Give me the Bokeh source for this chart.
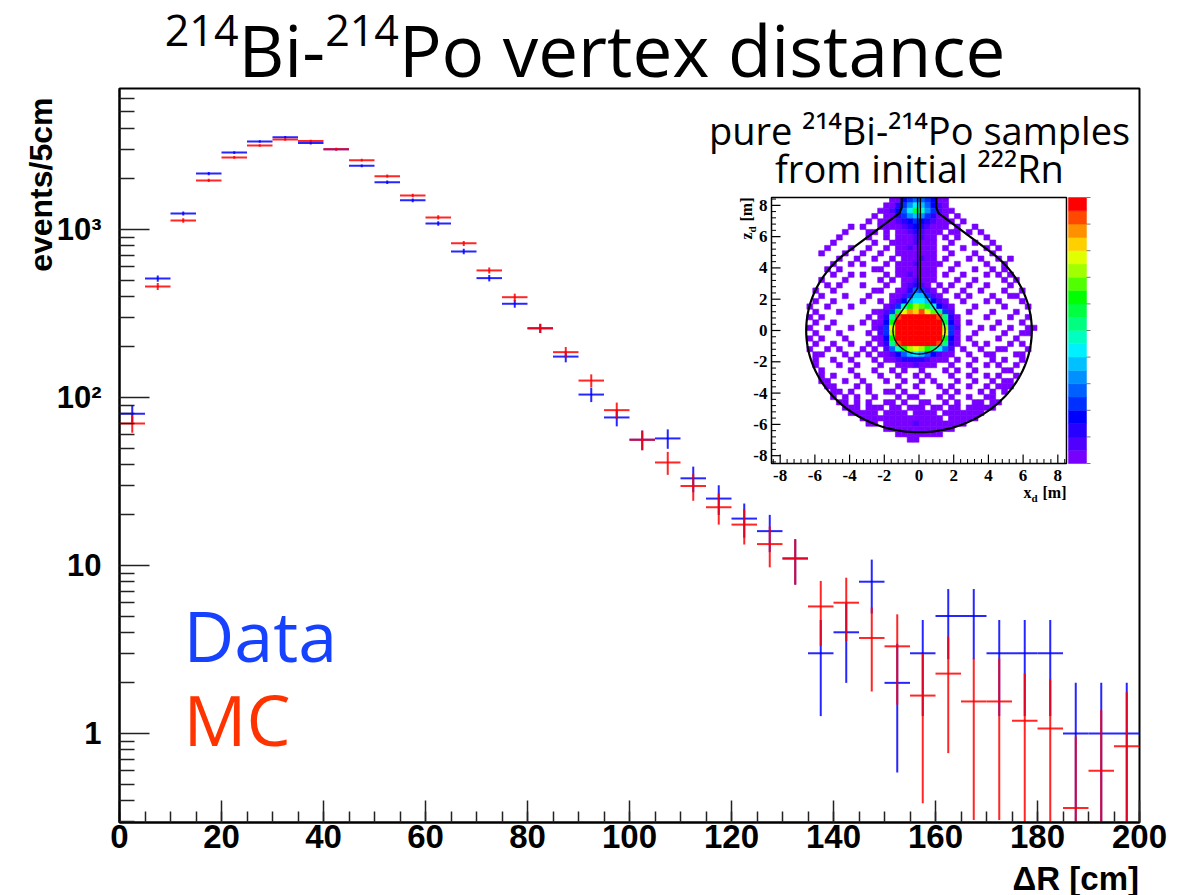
import math
import numpy as np
from bokeh.plotting import figure
from bokeh.layouts import column
from bokeh.models import Range1d, LinearScale, FixedTicker, Label, ColumnDataSource, Title, Div
from bokeh.core.properties import value
from bokeh.embed import file_html
from bokeh.resources import INLINE

# ---------------- data ----------------
bin_centers = [2.5, 7.5, 12.5, 17.5, 22.5, 27.5, 32.5, 37.5, 42.5, 47.5,
               52.5, 57.5, 62.5, 67.5, 72.5, 77.5, 82.5, 87.5, 92.5, 97.5,
               102.5, 107.5, 112.5, 117.5, 122.5, 127.5, 132.5, 137.5, 142.5, 147.5,
               152.5, 157.5, 162.5, 167.5, 172.5, 177.5, 182.5, 187.5, 192.5, 197.5]
bin_half_width = 2.5

data_counts = [80, 510, 1245, 2150, 2870, 3340, 3540, 3265, 3000, 2390,
               1910, 1490, 1086, 740, 513, 361, 258, 175, 104, 76,
               56, 57, 33, 25, 19, 16, 11, 3, 4, 8,
               2, 3, 5, 5, 3, 3, 3, 1, 1, 1]

mc_counts = [70, 458, 1131, 1958, 2683, 3162, 3433, 3356, 3005, 2585,
             2075, 1593, 1179, 826, 570, 395, 258, 186, 126, 84,
             56, 41, 29.7, 22.2, 17.5, 13.4, 11.0, 5.7, 6.0, 3.7,
             3.3, 1.68, 2.27, 1.55, 1.55, 1.19, 1.07, 0.36, 0.60, 0.84]

x_major_ticks = [0, 20, 40, 60, 80, 100, 120, 140, 160, 180, 200]
x_minor_ticks = list(range(0, 205, 5))
y_major_ticks = [1, 10, 100, 1000]
y_minor_ticks = [0.3, 0.4, 0.5, 0.6, 0.7, 0.8, 0.9,
                 2, 3, 4, 5, 6, 7, 8, 9,
                 20, 30, 40, 50, 60, 70, 80, 90,
                 200, 300, 400, 500, 600, 700, 800, 900,
                 2000, 3000, 4000, 5000, 6000]
y_tick_labels = {1: "1", 10: "10", 100: "10²", 1000: "10³"}

inset_ticks = [-8, -6, -4, -2, 0, 2, 4, 6, 8]
inset_tick_labels = ["-8", "-6", "-4", "-2", "0", "2", "4", "6", "8"]
inset_minor_ticks = [round(-8.4 + 0.4 * k, 2) for k in range(43)]

# inset 2D histogram: 50 x 50 cells over [-8.5, 8.5]^2, rows from top (z=+8.5) down
# '.' empty, '1'..'9','A'..'K' = colour level 1..20
INSET_ROWS = [
    ".......... .......... 1145665411 .......... ..........",
    ".......... .........1 1357986421 .......... ..........",
    ".......... ........11 2469CA7521 1......... ..........",
    ".......... .......1.1 1357875311 .1........ ..........",
    ".......... ......1.11 1234543211 1.1....... ..........",
    ".......... ...1.1..11 1123432111 .1..1..... ..........",
    ".......... ..1...11.1 .11232111. 11.1.1.... ..........",
    ".......... .1....1..1 .1112211.1 .1....1... ..........",
    ".......... 1......1.. 11112111.. 1...1..1.. ..........",
    ".........1 ...1..1..1 .1121111.1 ..1...1.1. ..........",
    "........1. ..1..1..1. .1111111.. 1...1..1.. ..........",
    ".......... .1..1..1.. 1.111211.1 ...1.1..1. 1.........",
    ".......... 1..1.1...1 .11121111. .1....1..1 ..........",
    ".........1 .1.....11. .1111111.. 1...1..1.1 ..........",
    ".......... 1..1.1...1 .1121111.1 ..1...1.1. 1.........",
    "........1. ..1.....1. 1.112111.. .1..1....1 .1........",
    ".........1 .1...1...1 ..12321.1. 1..1..1... 1.........",
    ".......1.. 1......11. .1136521.1 ..1..1...1 ..1.......",
    "........1. ..1...1... 112588521. .1.1...1.. 11........",
    ".......1.. 1....1..1. 1248998421 ..1...1.1. ..1.......",
    "......1..1 ...1.....1 25ADFEC942 1...1....1 ...1......",
    ".......1.. .1.....112 5CGIHJGEB5 2..1...1.. .1........",
    "......1.1. ......1.13 BJKKKKKKJB 31....1... 1..1......",
    ".......1.. 1....1.114 DKKKKKKKKC 41.1....1. ..1.......",
    "......1..1 ...1...125 GKKKKKKKKF 52...1.1.. 1..11.....",
    ".......1.. .1....1.25 FKKKKKKKKG 51..1....1 ..11......",
    "......1.1. ..1....114 DKKKKKKKKD 41.1....1. .1........",
    ".......1.. 1..1..1.13 BJKKKKKKJB 31..1.1... 1.1.......",
    "......1..1 .1...1.1.2 6ADFGFDB96 2.1..1..11 ...1......",
    ".......11. ..1.1.1.11 2468986421 1..1..11.. .11.......",
    ".......1.. 1..1...1.1 1233332111 .1..1..1.1 ..1.......",
    ".......1.. .1..1...1. .1112111.. 1..1..1.1. .1........",
    "........1. ...1...1.. 1.1..1...1 .1..1....1 1.........",
    "........1. 1...1...1. .1..1.1... 1..1..1.1. .1........",
    "........11 ..1..1...1 ..1..1.1.. .1..1..1.1 1.........",
    ".........1 1...1.1... .1..1...1. 1..1..1.11 1.........",
    ".......... 11.1..1..1 1.1..1...1 .1...1.1.1 ..........",
    ".......... 1.1.1..1.. .1.11...1. 1..1..11.. ..........",
    ".......... .11.1.1..1 1.1..11..1 .1..11.11. ..........",
    ".......... ..111.111. 11.111.11. 11.11111.. ..........",
    ".......... ...11111.1 111.1111.1 111111.... ..........",
    ".......... .....11111 111111111. 11111..... ..........",
    ".......... ......11.1 1111211111 111....... ..........",
    ".......... .........1 1111111111 1......... ..........",
    ".......... .......... .11111111. .......... ..........",
    ".......... .......... ...11..... .......... ..........",
    ".......... .......... .......... .......... ..........",
    ".......... .......... .......... .......... ..........",
    ".......... .......... .......... .......... ..........",
    ".......... .......... .......... .......... ..........",
]
LEVEL_CHARS = "123456789ABCDEFGHIJK"
PALETTE = ["#7800ff", "#5000ff", "#2800ff", "#0000ff", "#0030ff",
           "#0060ff", "#0090ff", "#00c0ff", "#00f0ff", "#00ffc0",
           "#00ff80", "#00ff40", "#00ff00", "#50ff00", "#a0ff00",
           "#e0ff00", "#ffd000", "#ff9000", "#ff4800", "#ff0000"]

# ---------------- page geometry ----------------
W, H = 1195, 895
TITLE_H = 86                                  # title block height (px)
FL, FR, FT, FB = 119, 1139, 88, 822          # main frame on the page (px)
BOTTOM_BORDER = 40
IL, IR, IT, IB = 771, 1066, 197, 463          # inset frame on the page (px)
CBL, CBR = 1068, 1086                         # inset colour bar (px)
Y0, Y1 = 0.295, 6900
IX0, IX1 = -8.5, 8.5
ux = (IX1 - IX0) / (IR - IL)
uy = (IX1 - IX0) / (IB - IT)


def ix_of(px):
    return IX0 + (px - IL) * ux


def iy_of(py):
    return IX1 - (py - IT) * uy


fig_h = (FT - TITLE_H) + (FB - FT) + BOTTOM_BORDER
p = figure(width=W, height=fig_h, x_range=Range1d(0, 200), y_range=Range1d(Y0, Y1),
           y_axis_type="log", output_backend="svg", toolbar_location=None,
           min_border_left=FL, min_border_right=W - FR,
           min_border_top=FT - TITLE_H, min_border_bottom=BOTTOM_BORDER)
p.title.text = ""
p.title.visible = False
p.extra_x_ranges = {"ix": Range1d(ix_of(FL), ix_of(FR)), "px": Range1d(FL, FR)}
p.extra_y_ranges = {"iy": Range1d(iy_of(FB), iy_of(FT)), "py": Range1d(FB, FT)}
p.extra_x_scales = {"ix": LinearScale(), "px": LinearScale()}
p.extra_y_scales = {"iy": LinearScale(), "py": LinearScale()}

p.background_fill_color = "white"
p.border_fill_color = "white"
p.outline_line_color = "black"
p.outline_line_width = 2
p.xgrid.visible = False
p.ygrid.visible = False

AX_FONT = "Liberation Sans"
xa = p.xaxis[0]
xa.ticker = FixedTicker(ticks=x_major_ticks, minor_ticks=x_minor_ticks)
ya = p.yaxis[0]
ya.ticker = FixedTicker(ticks=y_major_ticks, minor_ticks=y_minor_ticks)
ya.major_label_overrides = y_tick_labels
for ax in (xa, ya):
    ax.major_label_text_font = AX_FONT
    ax.major_label_text_font_style = "bold"
    ax.major_label_text_color = "black"
    ax.axis_line_width = 2
    ax.axis_line_color = "black"
    ax.major_tick_out = 0
    ax.minor_tick_out = 0
    ax.major_tick_line_width = 1.5
    ax.minor_tick_line_width = 1.5
    ax.major_tick_line_color = "#222222"
    ax.minor_tick_line_color = "#222222"
xa.major_label_text_font_size = "33px"
ya.major_label_text_font_size = "31px"
xa.major_tick_in = 22
xa.minor_tick_in = 11
xa.major_label_standoff = 2
ya.major_tick_in = 30
ya.minor_tick_in = 15
ya.major_label_standoff = 18

ytitle = Title(text="events/5cm", align="right", vertical_align="bottom", text_font=AX_FONT,
               text_font_style="bold", text_font_size="32px", text_color="black",
               standoff=0, offset=9)
try:
    ytitle.standoff = -11
except Exception:
    ytitle.standoff = 0
p.add_layout(ytitle, "left")

# ---------------- main histograms ----------------
def hist_source(vals):
    v = np.array(vals, dtype=float)
    err = np.sqrt(v)
    c = np.array(bin_centers)
    return ColumnDataSource(dict(x=c, x0=c - bin_half_width, x1=c + bin_half_width, y=v,
                                 lo=np.maximum(v - err, 0.2), hi=v + err))


for vals, col in ((data_counts, "#0000ff"), (mc_counts, "#ff0000")):
    src = hist_source(vals)
    p.segment(x0="x0", y0="y", x1="x1", y1="y", source=src, line_color=col,
              line_width=2, line_alpha=0.85)
    p.segment(x0="x", y0="lo", x1="x", y1="hi", source=src, line_color=col,
              line_width=2, line_alpha=0.85)

# ---------------- inset ----------------
ncell = 50
cw = (IX1 - IX0) / ncell
cl, cr, cb, ct, cc = [], [], [], [], []
for r, row in enumerate(INSET_ROWS):
    row = row.replace(" ", "").ljust(ncell, ".")[:ncell]
    for c, ch in enumerate(row):
        if ch in LEVEL_CHARS:
            cl.append(IX0 + c * cw)
            cr.append(IX0 + (c + 1) * cw)
            ct.append(IX1 - r * cw)
            cb.append(IX1 - (r + 1) * cw)
            cc.append(PALETTE[LEVEL_CHARS.index(ch)])
p.quad(left=cl, right=cr, bottom=cb, top=ct, fill_color=cc, line_color=cc,
       line_width=0.6, x_range_name="ix", y_range_name="iy")


def drop_outline(R, neck_hw, neck_bottom, tang_x, tang_z, top=8.5):
    d = math.hypot(tang_x, tang_z)
    a = math.acos(R / d)
    t = math.atan2(tang_z, tang_x) + a
    ang = np.linspace(t, 3 * math.pi - t, 240)
    xs = [-neck_hw, -neck_hw, tang_x] + list(R * np.cos(ang)) + [-tang_x, neck_hw, neck_hw]
    zs = [top, neck_bottom, tang_z] + list(R * np.sin(ang)) + [tang_z, neck_bottom, top]
    return xs, zs


bx, bz = drop_outline(6.5, 1.0, 7.85, -1.12, 7.5)
p.line(bx, bz, line_color="black", line_width=2.2, x_range_name="ix", y_range_name="iy")
dx, dz = drop_outline(1.5, 0.08, 2.75, -0.08, 2.7)
p.line(dx, dz, line_color="black", line_width=1.4, x_range_name="ix", y_range_name="iy")

p.quad(left=[IX0], right=[IX1], bottom=[IX0], top=[IX1], fill_color=None,
       line_color="black", line_width=1.5, x_range_name="ix", y_range_name="iy")

maj_len_x, min_len_x = 9 * uy, 4.5 * uy
maj_len_y, min_len_y = 9 * ux, 4.5 * ux
minor_only = [m for m in inset_minor_ticks if all(abs(m - t) > 1e-6 for t in inset_ticks)]
p.segment(x0=inset_ticks, y0=[IX0] * 9, x1=inset_ticks, y1=[IX0 + maj_len_x] * 9,
          line_color="black", line_width=1.2, x_range_name="ix", y_range_name="iy")
p.segment(x0=minor_only, y0=[IX0] * len(minor_only), x1=minor_only,
          y1=[IX0 + min_len_x] * len(minor_only),
          line_color="black", line_width=1.0, x_range_name="ix", y_range_name="iy")
p.segment(x0=[IX0] * 9, y0=inset_ticks, x1=[IX0 + maj_len_y] * 9, y1=inset_ticks,
          line_color="black", line_width=1.2, x_range_name="ix", y_range_name="iy")
p.segment(x0=[IX0] * len(minor_only), y0=minor_only, x1=[IX0 + min_len_y] * len(minor_only),
          y1=minor_only, line_color="black", line_width=1.0, x_range_name="ix", y_range_name="iy")

p.text(x=inset_ticks, y=[iy_of(469)] * 9, text=inset_tick_labels,
       text_font=value("Liberation Serif"), text_font_style="bold", text_font_size="17px",
       text_align="center", text_baseline="top", text_color="black",
       x_range_name="ix", y_range_name="iy")
p.text(x=[ix_of(767)] * 9, y=inset_ticks, text=inset_tick_labels,
       text_font=value("Liberation Serif"), text_font_style="bold", text_font_size="17px",
       text_align="right", text_baseline="middle", text_color="black",
       x_range_name="ix", y_range_name="iy")

nlev = len(PALETTE)
band = (IX1 - IX0) / nlev
p.quad(left=[ix_of(CBL)] * nlev, right=[ix_of(CBR)] * nlev,
       bottom=[IX0 + k * band for k in range(nlev)],
       top=[IX0 + (k + 1) * band for k in range(nlev)],
       fill_color=PALETTE, line_color=PALETTE, line_width=0.5,
       x_range_name="ix", y_range_name="iy")
cb_ticks = [IX0 + k * 2 * band for k in range(nlev // 2 + 1)]
p.segment(x0=[ix_of(CBR)] * len(cb_ticks), y0=cb_ticks, x1=[ix_of(CBR + 4)] * len(cb_ticks),
          y1=cb_ticks, line_color="#777777", line_width=1,
          x_range_name="ix", y_range_name="iy")


# ---------------- texts inside the frame ----------------
def add_label(text, x, y, size, font="Open Sans", style="normal", color="black",
              align="left", angle=0.0, shift=0.41):
    # shift: empirical correction so that y is the alphabetic baseline on the page
    if angle == 0.0:
        y = y - shift * size
    else:
        x = x - shift * size
    p.add_layout(Label(x=x, y=y, x_range_name="px", y_range_name="py", text=text,
                       text_font=font, text_font_size=f"{size}px", text_font_style=style,
                       text_color=color, text_align=align, text_baseline="alphabetic",
                       angle=angle))


add_label("pure ²¹⁴Bi-²¹⁴Po samples", 919, 145, 38, align="center")
add_label("from initial ²²²Rn", 919, 183, 38, align="center")
add_label("Data", 183, 663, 70, color="#1541ff")
add_label("MC", 183, 747, 70, color="#ff3300")

add_label("[m]", 1066, 497, 16, font="Liberation Serif", style="bold", align="right", shift=0.3)
add_label("d", 1037, 501, 11, font="Liberation Serif", style="bold", align="right", shift=0.3)
add_label("x", 1031, 497, 16, font="Liberation Serif", style="bold", align="right", shift=0.3)
add_label("[m]", 751, 197, 16, font="Liberation Serif", style="bold", align="right",
          angle=math.pi / 2, shift=0.3)
add_label("d", 755, 226, 11, font="Liberation Serif", style="bold", align="right",
          angle=math.pi / 2, shift=0.3)
add_label("z", 751, 232, 16, font="Liberation Serif", style="bold", align="right",
          angle=math.pi / 2, shift=0.3)

# ---------------- page title and x-axis title ----------------
SUP = '<span style="font-size:43px;vertical-align:31px;line-height:0">{}</span>'
title_html = ('<div style="width:1170px;text-align:center;white-space:nowrap;'
              'font-family:\'Open Sans\';font-size:71px;line-height:70px;padding-top:15px;'
              'color:#000000;">' + SUP.format("214") + 'Bi-' + SUP.format("214")
              + 'Po vertex distance</div>')
title_div = Div(text=title_html, width=W, height=TITLE_H, margin=(0, 0, 0, 0))

xlabel_h = H - TITLE_H - fig_h
xlabel_html = ('<div style="width:1139px;text-align:right;white-space:nowrap;'
               'font-family:\'Liberation Sans\';font-weight:bold;font-size:33px;'
               'line-height:33px;color:#000000;">ΔR [cm]</div>')
xlabel_div = Div(text=xlabel_html, width=W, height=xlabel_h, margin=(0, 0, 0, 0))

layout = column(title_div, p, xlabel_div, spacing=0)
open("out.html", "w").write(file_html(layout, INLINE))
